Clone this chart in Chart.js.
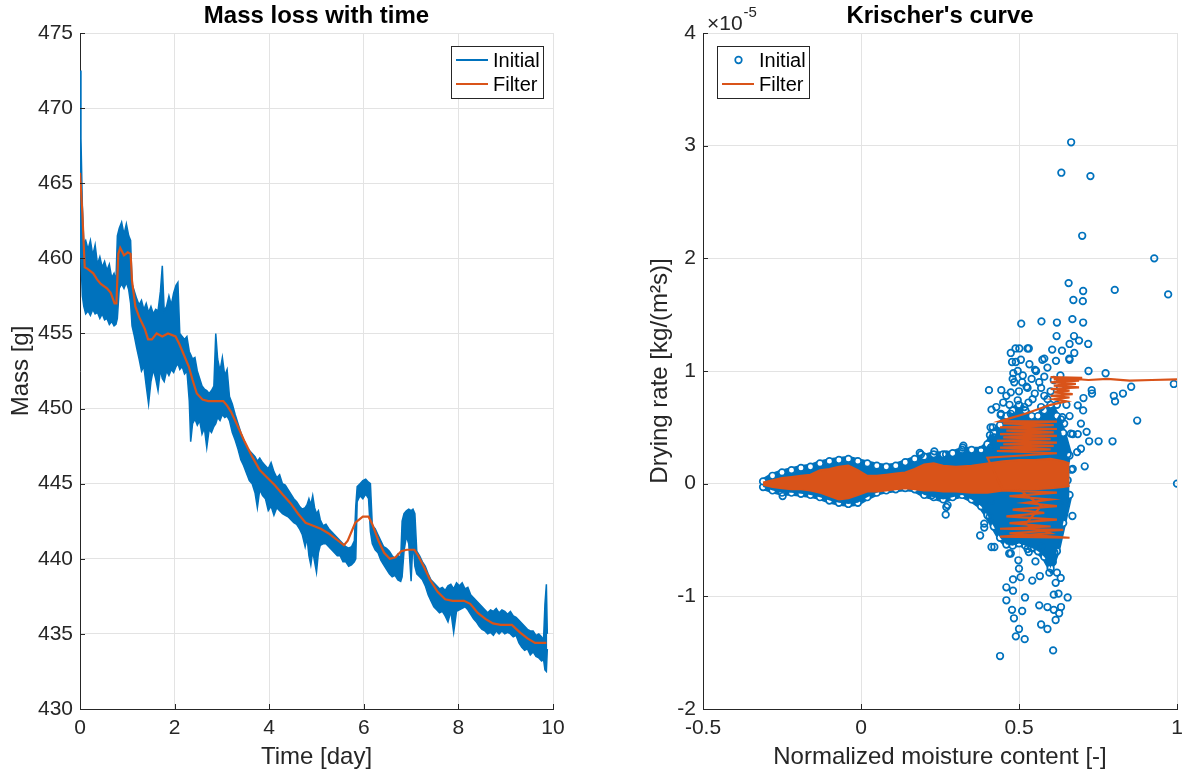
<!DOCTYPE html>
<html>
<head>
<meta charset="utf-8">
<script src="https://cdn.jsdelivr.net/npm/chart.js@4.4.0/dist/chart.umd.min.js"></script>
<style>
  html, body { margin: 0; padding: 0; background: #fff; }
  #wrap { position: relative; width: 1184px; height: 776px; overflow: hidden; }
  canvas { position: absolute; top: 0; }
</style>
</head>
<body>
<div id="wrap">
  <canvas id="massChart" width="592" height="776" style="left:0"></canvas>
  <canvas id="krischerChart" width="592" height="776" style="left:592px"></canvas>
</div>
<script>
const BLUE = '#0072BD', ORANGE = '#D95319', AXIS = '#262626', GRID = '#e3e3e3';
const FONT = '"Liberation Sans", Arial, Helvetica, sans-serif';

// ---- Mass loss with time: raw signal drawn as a band (upper / lower envelope)
const bandTime = [0.00,0.02,0.05,0.08,0.12,0.17,0.22,0.27,0.32,0.37,0.42,0.47,0.52,0.57,0.62,0.67,0.72,0.76,
  0.79,0.83,0.88,0.93,0.98,1.03,1.07,
  1.10,1.15,1.20,1.25,1.30,1.35,1.40,1.45,1.50,1.55,1.60,1.65,1.70,1.74,1.78,1.83,1.88,1.93,1.98,2.03,2.07,
  2.11,2.16,2.21,2.26,2.31,2.34,2.38,2.43,2.48,2.53,2.58,2.63,2.68,2.73,2.78,2.83,
  2.87,2.91,2.96,3.01,3.06,3.11,3.16,
  3.22,3.28,3.34,3.40,3.46,3.52,3.58,3.64,3.70,3.75,3.80,3.86,3.92,3.98,4.04,4.10,4.16,4.22,4.28,4.34,4.40,4.46,4.52,4.58,4.64,4.70,4.76,
  4.80,4.84,4.88,4.92,4.96,5.00,5.04,5.08,5.14,5.20,5.26,5.32,5.38,5.44,5.50,5.56,5.62,5.68,5.74,5.80,
  5.83,5.86,5.92,5.98,6.04,6.10,6.14,
  6.18,6.24,6.30,6.36,6.42,6.48,6.54,6.60,6.66,6.72,6.78,
  6.81,6.85,6.90,6.95,7.00,7.04,7.08,
  7.12,7.18,7.24,7.30,7.36,7.42,7.48,7.54,7.60,7.66,7.72,7.78,7.84,7.90,7.96,8.02,8.08,8.14,8.20,8.26,8.32,8.38,8.44,8.50,8.56,8.62,8.68,8.74,8.80,8.86,8.92,8.98,9.04,9.10,9.16,9.22,9.28,9.34,9.40,9.46,9.52,9.58,9.64,9.70,9.76,9.80,
  9.83,9.86,9.88];
const bandHigh = [472.5,468.0,463.5,461.0,461.2,460.6,461.2,460.2,460.9,459.6,460.1,459.4,459.8,459.2,459.6,458.7,459.0,458.5,
  461.5,462.0,462.4,461.6,462.3,461.5,461.2,
  458.3,457.8,457.3,456.9,457.2,456.6,457.0,456.4,456.8,456.3,456.6,456.5,457.8,459.5,456.5,456.8,457.5,456.9,457.7,458.2,458.4,
  455.0,454.8,454.6,454.8,453.8,453.6,453.3,453.4,452.5,452.0,451.5,451.3,451.2,451.0,451.2,451.5,
  455.0,453.3,452.5,453.4,452.2,452.6,450.8,
  450.3,449.6,449.0,448.4,447.9,447.4,447.2,447.0,446.8,446.5,446.7,446.4,446.2,446.0,446.4,445.8,445.4,445.6,445.0,444.9,444.6,444.3,444.0,443.8,443.5,443.3,443.4,
  443.6,444.0,443.6,444.2,443.4,443.0,443.2,442.6,442.2,442.3,442.0,441.8,441.6,441.4,441.2,441.0,440.8,440.7,440.8,441.2,
  443.5,444.8,445.0,445.2,445.3,445.1,445.0,
  442.2,442.0,441.6,441.2,440.8,440.7,440.5,440.2,440.0,440.3,440.0,
  442.5,443.0,443.2,443.3,443.2,443.3,443.0,
  440.5,440.2,439.8,439.5,439.0,438.6,438.4,438.2,438.0,438.1,437.9,438.2,438.3,438.0,438.4,438.2,438.4,438.0,438.1,437.6,437.4,437.2,437.0,436.8,436.6,436.4,436.6,436.5,436.7,436.4,436.6,436.5,436.3,436.5,436.2,436.1,435.9,435.7,435.5,435.3,435.2,435.2,434.9,435.0,434.8,434.6,
  437.0,438.3,435.0];
const bandLow = [460.3,460.0,457.5,456.8,456.3,456.5,456.2,456.6,456.3,456.4,456.0,456.3,455.9,456.0,455.6,455.8,455.5,455.6,
  456.0,458.0,458.3,458.0,458.4,457.9,457.0,
  455.5,454.8,454.0,453.3,452.5,452.8,451.5,450.3,451.8,452.6,452.0,451.2,452.6,452.0,451.8,452.5,452.2,452.6,452.4,452.8,453.0,
  452.6,452.8,452.3,452.5,450.5,447.8,449.0,449.3,448.9,449.2,448.3,448.7,447.4,448.6,448.4,448.8,
  449.0,449.4,449.2,449.6,449.4,449.5,449.2,
  448.4,447.9,447.3,446.6,446.2,445.7,445.2,445.0,444.4,443.4,444.6,444.2,444.0,443.2,443.5,442.9,443.4,443.2,443.0,442.9,442.8,442.6,442.4,442.3,442.0,441.6,440.8,
  441.4,440.2,439.6,440.5,439.8,439.1,440.4,440.9,441.0,441.0,440.8,440.6,440.4,440.2,440.2,439.8,439.8,439.5,439.6,439.8,
  440.0,443.8,444.2,444.0,444.3,444.0,441.8,
  441.0,440.6,440.4,439.9,439.6,439.3,439.0,438.8,438.9,438.6,438.5,
  438.8,440.5,441.5,441.0,438.5,441.2,439.5,
  439.0,438.8,438.6,438.2,437.6,437.2,436.8,436.6,436.4,436.5,436.2,435.8,436.5,435.1,436.5,436.6,436.7,436.8,436.6,436.3,436.0,435.8,435.5,435.3,435.2,435.0,435.1,434.9,435.2,435.0,435.2,435.0,435.1,435.0,434.8,434.9,434.4,434.1,433.9,434.0,433.6,433.8,433.5,433.4,433.2,433.3,
  432.6,432.5,434.0];

// filtered mass
const filterTime = [0,0.05,0.10,0.16,0.28,0.36,0.44,0.57,0.65,0.73,0.77,0.81,0.85,0.93,1.01,1.07,1.10,1.17,1.25,1.37,1.44,1.52,1.62,1.74,1.86,2.02,2.10,2.18,2.30,2.38,2.47,2.59,2.71,2.83,3.03,3.11,3.19,3.31,3.48,3.64,3.80,3.96,4.12,4.28,4.45,4.61,4.77,4.93,5.09,5.25,5.42,5.58,5.66,5.82,5.98,6.10,6.18,6.31,6.43,6.55,6.67,6.79,6.91,7.07,7.15,7.28,7.40,7.56,7.72,7.88,8.12,8.25,8.41,8.57,8.73,8.89,9.13,9.30,9.46,9.62,9.86];
const filterMass = [465.7,463.0,459.4,459.3,459.0,458.6,458.3,458.0,457.7,457.0,457.0,460.3,460.7,460.2,460.4,460.3,458.5,456.8,456.1,455.3,454.6,454.6,455.0,454.8,455.0,454.8,454.3,453.7,452.8,451.9,451.0,450.6,450.5,450.5,450.5,450.2,449.8,449.0,447.8,446.8,445.9,445.4,444.9,444.3,443.7,443.0,442.4,442.2,442.0,441.7,441.3,440.9,441.2,442.4,442.8,442.8,442.3,441.2,440.4,440.0,440.1,440.5,440.6,440.6,440.2,439.4,438.6,437.8,437.3,437.2,437.2,437.0,436.4,436.0,435.7,435.6,435.6,435.1,434.7,434.4,434.4];

// ---- Krischer's curve (drying rate in units of 1e-5 kg/(m^2 s))
const coreX = [-0.31,-0.28,-0.25,-0.22,-0.19,-0.16,-0.13,-0.10,-0.07,-0.04,-0.01,0.02,0.05,0.08,0.11,0.14,0.17,0.20,0.23,0.26,0.29,0.32,0.35,0.38,0.40,0.42,0.44,0.46,0.48,0.50,0.52,0.54,0.56,0.58,0.60,0.62,0.64,0.66];
const coreTop = [0.02,0.07,0.10,0.12,0.14,0.15,0.18,0.20,0.21,0.22,0.20,0.18,0.16,0.15,0.16,0.19,0.22,0.24,0.26,0.26,0.27,0.30,0.30,0.30,0.35,0.45,0.52,0.60,0.65,0.70,0.65,0.60,0.60,0.65,0.70,0.60,0.45,0.25];
const coreBottom = [-0.03,-0.06,-0.08,-0.08,-0.09,-0.10,-0.12,-0.15,-0.17,-0.18,-0.17,-0.12,-0.08,-0.06,-0.05,-0.04,-0.05,-0.10,-0.12,-0.14,-0.12,-0.10,-0.14,-0.20,-0.28,-0.38,-0.48,-0.54,-0.55,-0.53,-0.55,-0.57,-0.60,-0.65,-0.75,-0.60,-0.35,-0.10];

const upperPoints = [[0.665,3.03],[0.634,2.76],[0.726,2.73],[0.70,2.20],[0.928,2.0],[0.657,1.78],[0.703,1.71],[0.803,1.72],[0.972,1.68],
  [0.672,1.63],[0.702,1.62],[0.507,1.42],[0.571,1.44],[0.62,1.43],[0.669,1.46],[0.703,1.43],[0.619,1.31],[0.674,1.31],[0.66,1.24],
  [0.69,1.27],[0.719,1.24],[0.531,1.20],[0.489,1.2],[0.501,1.2],[0.605,1.19],[0.636,1.18],[0.675,1.16],[0.474,1.16],[0.574,1.10],
  [0.66,1.10],[0.478,1.08],[0.506,1.1],[0.533,1.06],[0.617,1.09],[0.551,1.01],[0.774,0.98],[0.72,1.0],[0.99,0.885],[0.405,0.83],
  [0.444,0.83],[0.855,0.86],[0.829,0.80],[0.80,0.78],[0.73,0.83],[0.512,0.96],[0.524,0.86],[0.482,0.98],[0.527,1.2],[0.49,1.08],
  [0.58,1.11],[0.659,1.11],[0.496,1.0],[0.554,1.0],[0.59,1.03],[0.631,0.96],[0.485,0.90],[0.527,0.85],[0.564,0.90],[0.474,0.81],
  [0.496,0.74],[0.543,0.75],[0.58,0.78],[0.517,0.68],[0.57,0.68],[0.443,0.62],[0.474,0.62],[0.417,0.5],[0.422,0.41],[0.411,0.32],
  [0.443,0.38],[0.633,0.57],[0.622,0.44],[0.67,0.44],[0.686,0.44],[0.654,0.26],[0.643,0.18],[0.67,0.13],[0.19,0.26],[0.269,0.26],
  [0.322,0.32],[0.38,0.29],[0.874,0.56],[0.796,0.376],[0.752,0.376],[0.722,0.376],[0.708,0.154],[0.731,0.80],[0.804,0.73],
  [0.413,0.657],[0.428,0.68],[0.442,0.61],[0.41,0.5],[0.408,0.43],[0.413,0.325],[0.643,0.533],[0.696,0.533],[0.714,0.46],
  [0.664,0.444],[0.696,0.31],[0.684,0.28],[0.649,0.207],[0.666,0.124],[0.637,0.59],[0.704,0.76],[0.703,0.65],[0.686,0.695],
  [0.186,0.272],[0.232,0.287],[0.324,0.337],[1.0,0],
  [0.46,0.78],[0.50,0.82],[0.55,0.80],[0.60,0.82],[0.47,0.70],[0.53,0.72],[0.59,0.75],[0.62,0.70],[0.45,0.72],[0.51,0.90],
  [0.57,0.85],[0.61,0.92],[0.54,0.93],[0.48,0.93],[0.58,0.95],[0.63,0.85],[0.65,0.70],[0.66,0.60]];
const lowerPoints = [[0.669,-0.287],[0.654,-1.01],[0.608,-1.48],[0.44,-1.53],[0.518,-1.38],[0.49,-1.355],[0.5,-1.29],[0.57,-1.25],
  [0.59,-1.29],[0.478,-1.12],[0.51,-1.13],[0.484,-1.195],[0.46,-1.035],[0.519,-1.01],[0.564,-1.08],[0.59,-1.095],[0.61,-1.12],
  [0.633,-1.095],[0.627,-1.15],[0.616,-1.21],[0.625,-0.976],[0.61,-0.985],[0.481,-0.95],[0.46,-0.92],[0.481,-0.85],[0.505,-0.83],
  [0.542,-0.86],[0.566,-0.82],[0.596,-0.79],[0.62,-0.79],[0.632,-0.837],[0.616,-0.88],[0.5,-0.754],[0.498,-0.68],[0.469,-0.62],
  [0.531,-0.607],[0.552,-0.69],[0.607,-0.695],[0.413,-0.562],[0.422,-0.562],[0.377,-0.46],[0.39,-0.355],[0.407,-0.296],
  [0.27,-0.207],[0.268,-0.275],[-0.248,-0.11],[0.224,-0.104],[0.411,-0.15],[0.274,-0.19],[0.39,-0.39],[0.474,-0.62],[0.527,-0.58],
  [0.57,-0.56],[0.612,-0.61],[0.643,-0.15],[0.633,-0.03],[0.654,0.03]];

// filter: dense band along the axis plus the path on the right
const filterBandX = [-0.31,-0.28,-0.25,-0.22,-0.19,-0.16,-0.13,-0.10,-0.07,-0.04,-0.01,0.02,0.05,0.08,0.11,0.14,0.17,0.20,0.23,0.26,0.30,0.35,0.40,0.45,0.50,0.55,0.60,0.64,0.66];
const filterBandTop = [0.01,0.03,0.05,0.06,0.07,0.08,0.12,0.13,0.15,0.16,0.12,0.07,0.07,0.08,0.09,0.10,0.13,0.17,0.18,0.16,0.15,0.16,0.18,0.20,0.21,0.21,0.22,0.20,0.18];
const filterBandBottom = [-0.01,-0.03,-0.04,-0.05,-0.05,-0.06,-0.08,-0.11,-0.14,-0.13,-0.10,-0.07,-0.07,-0.06,-0.05,-0.04,-0.05,-0.06,-0.06,-0.07,-0.07,-0.08,-0.08,-0.06,-0.05,-0.05,-0.04,-0.03,-0.02];
const filterPath = [[1.0,0.925],[0.92,0.92],[0.85,0.915],[0.78,0.93],[0.72,0.92],
  [0.60,0.945],[0.70,0.94],[0.61,0.925],[0.69,0.915],[0.60,0.90],[0.68,0.885],[0.61,0.87],[0.69,0.855],[0.60,0.84],[0.66,0.825],
  [0.61,0.81],[0.67,0.795],[0.60,0.78],[0.66,0.765],[0.61,0.75],[0.65,0.73],
  [0.60,0.70],[0.56,0.66],[0.52,0.62],[0.47,0.58],
  [0.44,0.555],[0.62,0.55],[0.45,0.535],[0.61,0.52],[0.44,0.50],[0.62,0.485],[0.46,0.47],[0.61,0.455],[0.44,0.44],[0.62,0.425],
  [0.45,0.41],[0.60,0.395],[0.43,0.38],[0.62,0.365],[0.45,0.35],[0.61,0.335],[0.44,0.32],[0.60,0.305],[0.43,0.29],[0.62,0.27],[0.40,0.23],
  [0.45,-0.06],[0.62,-0.08],[0.47,-0.11],[0.60,-0.14],[0.52,-0.17],[0.62,-0.20],[0.48,-0.23],[0.58,-0.26],[0.46,-0.29],[0.62,-0.32],
  [0.47,-0.35],[0.60,-0.38],[0.44,-0.40],[0.64,-0.41],[0.47,-0.44],[0.66,-0.48],[0.44,-0.47],[0.60,-0.44],[0.52,-0.36],[0.57,-0.20],[0.50,-0.05]];

const pts = (xs, ys) => xs.map((x, i) => ({x, y: ys[i]}));
const pairs = list => list.map(p => ({x: p[0], y: p[1]}));

// MATLAB-style tick marks pointing into the axes
const innerTicks = {
  id: 'innerTicks',
  afterDraw(chart) {
    const {ctx, chartArea: a, scales: {x, y}} = chart;
    ctx.save();
    ctx.strokeStyle = AXIS;
    ctx.lineWidth = 1;
    ctx.beginPath();
    x.ticks.forEach(t => {
      const px = Math.round(x.getPixelForValue(t.value)) + 0.5;
      ctx.moveTo(px, a.bottom); ctx.lineTo(px, a.bottom - 5);
    });
    y.ticks.forEach(t => {
      const py = Math.round(y.getPixelForValue(t.value)) + 0.5;
      ctx.moveTo(a.left, py); ctx.lineTo(a.left + 5, py);
    });
    ctx.stroke();
    ctx.restore();
  }
};

function boxLegend(side, circleMarker) {
  return {
    id: 'boxLegend',
    afterDraw(chart) {
      const {ctx, chartArea: a} = chart;
      const w = 92, h = 52;
      const bx = side === 'right' ? a.right - 10 - w : a.left + 14;
      const by = a.top + 13;
      ctx.save();
      ctx.fillStyle = '#fff';
      ctx.fillRect(bx, by, w, h);
      ctx.strokeStyle = AXIS;
      ctx.lineWidth = 1;
      ctx.strokeRect(bx + 0.5, by + 0.5, w, h);
      if (circleMarker) {
        ctx.beginPath();
        ctx.arc(bx + 21.5, by + 14, 3.3, 0, Math.PI * 2);
        ctx.strokeStyle = BLUE; ctx.lineWidth = 1.7; ctx.stroke();
      } else {
        ctx.beginPath(); ctx.moveTo(bx + 5, by + 14); ctx.lineTo(bx + 37, by + 14);
        ctx.strokeStyle = BLUE; ctx.lineWidth = 2; ctx.stroke();
      }
      ctx.beginPath(); ctx.moveTo(bx + 5, by + 38); ctx.lineTo(bx + 37, by + 38);
      ctx.strokeStyle = ORANGE; ctx.lineWidth = 2; ctx.stroke();
      ctx.fillStyle = '#000';
      ctx.font = `20px ${FONT}`;
      ctx.textBaseline = 'middle';
      ctx.fillText('Initial', bx + 42, by + 15);
      ctx.fillText('Filter', bx + 42, by + 39);
      ctx.restore();
    }
  };
}

const exponentLabel = {
  id: 'exponentLabel',
  afterDraw(chart) {
    const {ctx, chartArea: a} = chart;
    ctx.save();
    ctx.fillStyle = AXIS;
    ctx.textBaseline = 'alphabetic';
    ctx.font = `21px ${FONT}`;
    ctx.fillText('\u00d710', a.left + 4, a.top - 3);
    const w = ctx.measureText('\u00d710').width;
    ctx.font = `15px ${FONT}`;
    ctx.fillText('-5', a.left + 5 + w, a.top - 16);
    ctx.restore();
  }
};

function axis(min, max, step, title, titlePad, fit) {
  return {
    type: 'linear', min, max,
    afterFit: fit,
    ticks: {stepSize: step, color: AXIS, font: {family: FONT, size: 21}, padding: 7, autoSkip: false, maxRotation: 0,
      callback: v => String(Math.round(v * 10) / 10)},
    grid: {color: GRID, drawTicks: false, lineWidth: 1},
    border: {color: AXIS, width: 1},
    title: {display: true, text: title, color: AXIS, font: {family: FONT, size: 24}, padding: titlePad}
  };
}
const fitX = s => { s.height = 67; s.paddingLeft = 0; s.paddingRight = 0; };

function titleOpts(text) {
  return {
    display: true, text, color: '#000', fullSize: false,
    font: {family: FONT, size: 24, weight: 'bold'},
    padding: {top: 2, bottom: 2.2}
  };
}

const common = {responsive: false, animation: false, events: []};

new Chart(document.getElementById('massChart'), {
  type: 'line',
  data: {
    datasets: [
      {label: 'Filter', data: pts(filterTime, filterMass), borderColor: ORANGE, borderWidth: 2.2, pointRadius: 0, fill: false},
      {label: 'Initial', data: pts(bandTime, bandHigh), borderColor: BLUE, backgroundColor: BLUE, borderWidth: 1.5, pointRadius: 0, fill: '+1'},
      {label: 'Initial low', data: pts(bandTime, bandLow), borderColor: BLUE, borderWidth: 1.5, pointRadius: 0, fill: false}
    ]
  },
  options: {
    ...common,
    layout: {padding: {left: 0, right: 39, top: 0, bottom: 0}},
    plugins: {legend: {display: false}, tooltip: {enabled: false}, title: titleOpts('Mass loss with time')},
    scales: {
      x: axis(0, 10, 2, 'Time [day]', {bottom: 4}, fitX),
      y: axis(430, 475, 5, 'Mass [g]', {top: 7}, s => { s.width = 80; })
    }
  },
  plugins: [innerTicks, boxLegend('right', false)]
});

const circle = {showLine: false, pointStyle: 'circle', pointRadius: 3.3, pointBorderWidth: 1.7,
  pointBorderColor: BLUE, pointBackgroundColor: 'rgba(0,0,0,0)', borderColor: BLUE};

new Chart(document.getElementById('krischerChart'), {
  type: 'line',
  data: {
    datasets: [
      {label: 'Filter', data: pairs(filterPath), borderColor: ORANGE, borderWidth: 2.2, pointRadius: 0, fill: false},
      {label: 'Filter band', data: pts(filterBandX, filterBandTop), borderColor: ORANGE, backgroundColor: ORANGE, borderWidth: 2, pointRadius: 0, fill: '+1'},
      {label: 'Filter band low', data: pts(filterBandX, filterBandBottom), borderColor: ORANGE, borderWidth: 2, pointRadius: 0, fill: false},
      {label: 'Initial', data: pairs(upperPoints), ...circle},
      {label: 'Initial low', data: pairs(lowerPoints), ...circle},
      {label: 'Initial core', data: pts(coreX, coreTop), borderColor: BLUE, backgroundColor: BLUE, borderWidth: 6,
        pointRadius: 3.3, pointBorderWidth: 1.7, pointBackgroundColor: '#fff', pointBorderColor: BLUE, fill: '+1'},
      {label: 'Initial core low', data: pts(coreX, coreBottom), borderColor: BLUE, borderWidth: 6,
        pointRadius: 3.3, pointBorderWidth: 1.7, pointBackgroundColor: '#fff', pointBorderColor: BLUE, fill: false}
    ]
  },
  options: {
    ...common,
    layout: {padding: {left: 0, right: 7, top: 0, bottom: 0}},
    plugins: {legend: {display: false}, tooltip: {enabled: false}, title: titleOpts("Krischer's curve")},
    scales: {
      x: axis(-0.5, 1, 0.5, 'Normalized moisture content [-]', {bottom: 4}, fitX),
      y: axis(-2, 4, 1, 'Drying rate [kg/(m\u00b2s)]', {top: 54}, s => { s.width = 111; })
    }
  },
  plugins: [innerTicks, boxLegend('left', true), exponentLabel]
});
</script>
</body>
</html>
